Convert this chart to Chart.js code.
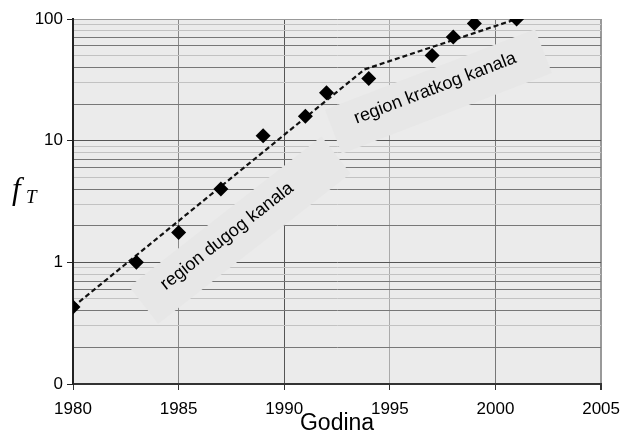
<!DOCTYPE html>
<html>
<head>
<meta charset="utf-8">
<script src="https://cdn.jsdelivr.net/npm/chart.js@4/dist/chart.umd.min.js"></script>
<style>
  html, body { margin: 0; padding: 0; background: #fff; }
  #wrap { width: 629px; height: 432px; }
</style>
</head>
<body>
<div id="wrap"><canvas id="chart"></canvas></div>
<script>
// measured points (year, fT)
const years = [1980, 1983, 1985, 1987, 1989, 1991, 1992, 1994, 1997, 1998, 1999, 2001];
const fT    = [0.43, 1.0, 1.76, 4.0, 11.0, 15.9, 24.8, 32.5, 50.2, 71, 92, 100];

// dashed trend line (two segments)
const trendYears = [1980, 1993.8, 2001];
const trendVals  = [0.43, 38.5, 100];

// ticks
const xTicks = [1980, 1985, 1990, 1995, 2000, 2005];
const yDecades = [0.1, 1, 10];
const yLabels = { 0.1: "0", 1: "1", 10: "10", 100: "100" };

// rotated labels
const notes = [
  { text: "region dugog kanala",   x: 1987.9, y: 1.84, angle: -38, w: 244, h: 47, dx: -14, dy: -3 },
  { text: "region kratkog kanala", x: 1997.3, y: 25.4, angle: -21, w: 225, h: 47, dx: -2,  dy: -4 }
];

const yTickVals = [];
yDecades.forEach(d => { for (let m = 1; m < 10; m++) yTickVals.push(+(d * m).toPrecision(3)); });
yTickVals.push(100);

const sigOf = v => Math.round(v / Math.pow(10, Math.floor(Math.log10(v) + 1e-9)));
const xGridColor = { 1980: "#222", 1985: "#888", 1990: "#555", 1995: "#aaa", 2000: "#777", 2005: "#999" };

function yGridColor(v) {
  if (v === 100) return "#999";
  const s = sigOf(v);
  if (s === 1) return "#555";
  return [3, 5, 8, 9].includes(s) ? "#c2c2c2" : "#777";
}

const bgPlugin = {
  id: "bg",
  beforeDraw(chart) {
    const { ctx, chartArea: a } = chart;
    ctx.save();
    ctx.fillStyle = "#ebebeb";
    ctx.fillRect(a.left, a.top, a.right - a.left, a.bottom - a.top);
    ctx.restore();
  },
  beforeDatasetsDraw(chart) {
    const { ctx } = chart;
    const xs = chart.scales.x, ys = chart.scales.y;
    notes.forEach(n => {
      const px = xs.getPixelForValue(n.x), py = ys.getPixelForValue(n.y);
      ctx.save();
      ctx.translate(px, py);
      ctx.rotate(n.angle * Math.PI / 180);
      ctx.fillStyle = "#e7e7e7";
      ctx.fillRect(-n.w / 2, -n.h / 2, n.w, n.h);
      ctx.fillStyle = "#000";
      ctx.font = '18px "Liberation Sans", Arial, sans-serif';
      ctx.textAlign = "center";
      ctx.textBaseline = "middle";
      ctx.fillText(n.text, n.dx, n.dy);
      ctx.restore();
    });
  },
  afterDraw(chart) {
    const { ctx, chartArea: a } = chart;
    ctx.save();
    ctx.fillStyle = "#000";
    ctx.textBaseline = "alphabetic";
    ctx.textAlign = "center";
    ctx.font = '23px "Liberation Sans", Arial, sans-serif';
    ctx.fillText("Godina", (a.left + a.right) / 2, 430);
    ctx.textAlign = "left";
    ctx.font = 'italic 31px "Liberation Serif", "DejaVu Serif", serif';
    ctx.fillText("f", 12, 199);
    ctx.font = 'italic 19px "Liberation Serif", "DejaVu Serif", serif';
    ctx.fillText("T", 26, 203);
    ctx.restore();
  }
};

const ctx = document.getElementById("chart").getContext("2d");
const chart = new Chart(ctx, {
  type: "scatter",
  data: {
    datasets: [
      {
        data: years.map((y, i) => ({ x: y, y: fT[i] })),
        pointStyle: "rectRot",
        pointRadius: 7.5,
        pointHoverRadius: 7.5,
        backgroundColor: "#000",
        borderColor: "#000",
        borderWidth: 0,
        showLine: false,
        order: 0
      },
      {
        data: trendYears.map((y, i) => ({ x: y, y: trendVals[i] })),
        showLine: true,
        borderColor: "#111",
        borderWidth: 2.2,
        borderDash: [5, 3],
        pointRadius: 0,
        tension: 0,
        order: 1
      }
    ]
  },
  options: {
    responsive: true,
    maintainAspectRatio: false,
    animation: false,
    devicePixelRatio: 1,
    layout: { padding: { top: 19, right: 22, left: 0, bottom: 0 } },
    plugins: { legend: { display: false }, tooltip: { enabled: false } },
    scales: {
      x: {
        type: "linear",
        min: 1980, max: 2005,
        afterBuildTicks: s => { s.ticks = xTicks.map(v => ({ value: v })); },
        afterFit: s => { s.height = 48; },
        ticks: {
          autoSkip: false, maxRotation: 0, padding: 9, color: "#000",
          font: { family: '"Liberation Sans", Arial, sans-serif', size: 17 },
          callback: v => String(v)
        },
        grid: {
          color: c => xGridColor[c.tick && c.tick.value] || "#888",
          lineWidth: c => (c.tick && c.tick.value === 2005) ? 2 : 1,
          tickLength: 6,
          tickColor: "#333"
        },
        border: { color: "#333", width: 2 }
      },
      y: {
        type: "logarithmic",
        min: 0.1, max: 100,
        afterBuildTicks: s => { s.ticks = yTickVals.map(v => ({ value: v })); },
        afterFit: s => { s.width = 73; },
        ticks: {
          autoSkip: false, padding: 4, color: "#000",
          font: { family: '"Liberation Sans", Arial, sans-serif', size: 17 },
          callback: v => yLabels[v] ?? ""
        },
        grid: {
          color: c => yGridColor(c.tick ? c.tick.value : 1),
          tickLength: 6,
          tickColor: c => (c.tick && yLabels[c.tick.value] !== undefined) ? "#222" : "rgba(0,0,0,0)"
        },
        border: { color: "#222", width: 2 }
      }
    }
  },
  plugins: [bgPlugin]
});
</script>
</body>
</html>
